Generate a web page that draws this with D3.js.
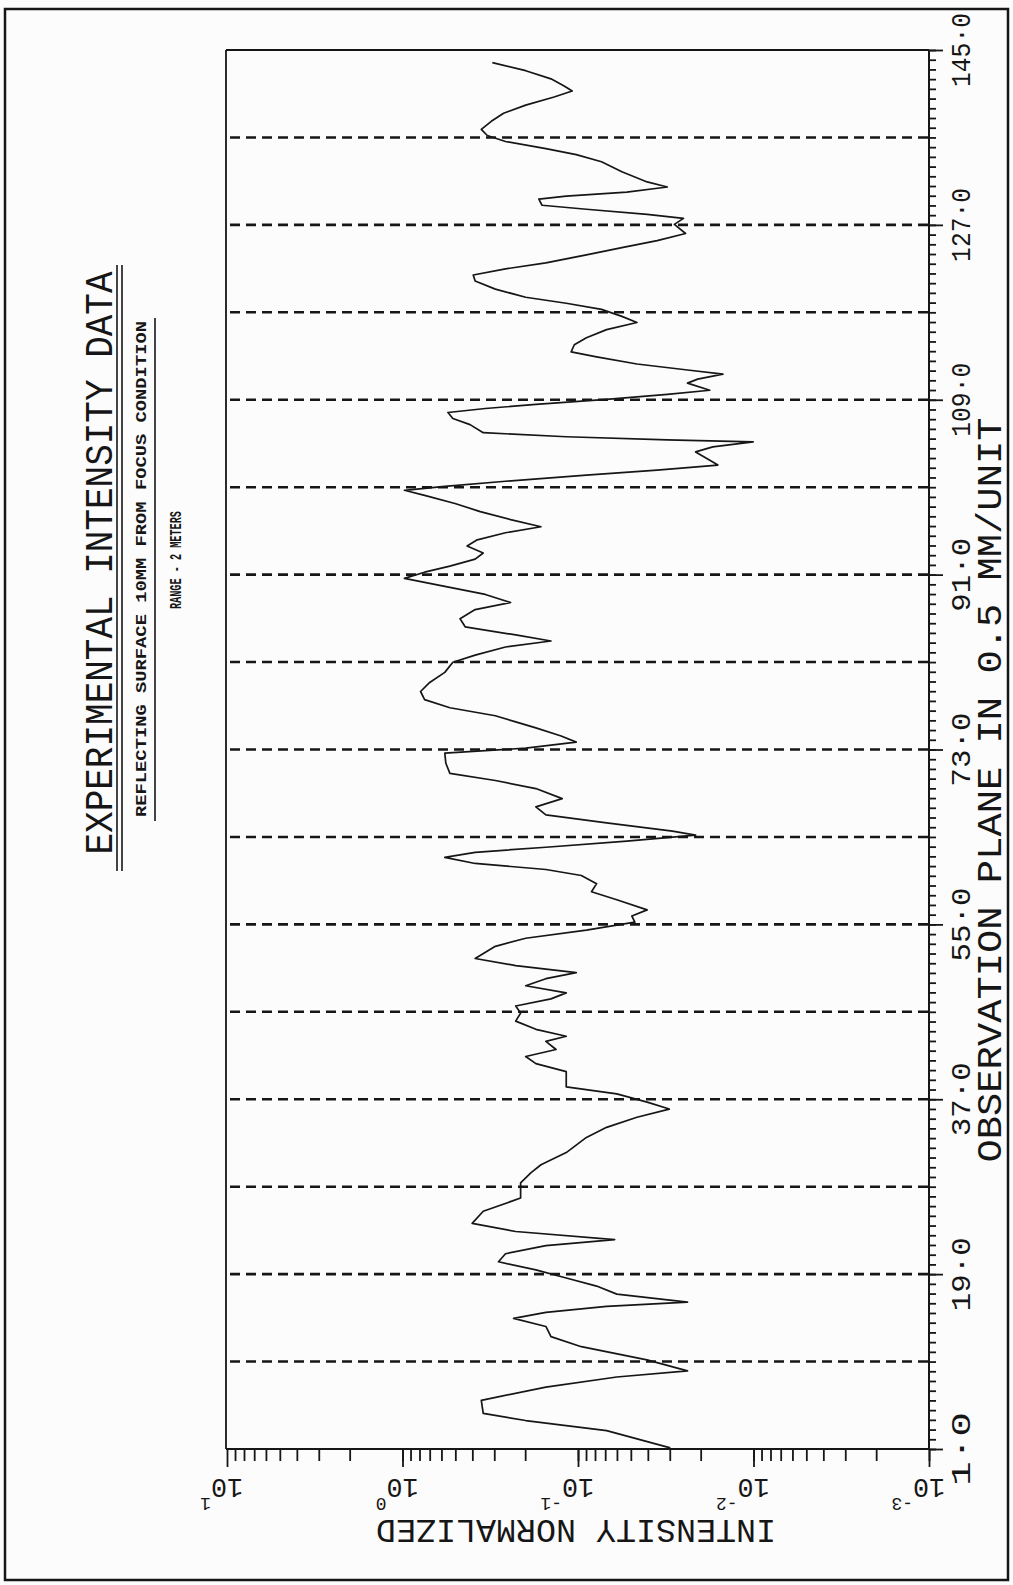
<!DOCTYPE html>
<html>
<head>
<meta charset="utf-8">
<script src="https://cdn.jsdelivr.net/npm/d3@7"></script>
<style>
  body { margin: 0; background: #fcfcfc; }
  svg text { font-family: "Liberation Mono", "DejaVu Sans Mono", monospace; fill: #161616; }
</style>
</head>
<body>
<svg id="chart" width="1013" height="1585"></svg>
<script>
// Observation plane position (0.5 mm units) and log10 of normalized intensity
const observation = [
  1.12, 2.89, 3.93, 4.66, 6.01, 7.37, 8.41, 9.04, 10.17, 11.53, 12.57, 13.61, 14.44, 15.07, 15.69, 16.11,
  16.94, 17.77, 18.60, 19.44, 20.27, 21.10, 21.93, 22.56, 23.39, 24.22, 25.47, 26.83, 28.39, 29.43, 30.26,
  31.51, 33.07, 34.11, 35.15, 35.99, 36.71, 37.55, 38.27, 39.00, 39.84, 40.67, 41.40, 42.12, 42.96, 43.48,
  44.20, 45.04, 45.87, 46.60, 47.33, 47.95, 48.68, 49.41, 50.04, 50.76, 51.49, 52.74, 53.57, 54.41, 55.24,
  55.86, 56.49, 57.53, 58.36, 59.19, 60.03, 60.65, 61.27, 61.90, 62.42, 62.94, 63.56, 64.19, 64.60, 65.44,
  66.27, 67.10, 67.94, 68.98, 69.81, 70.54, 71.58, 72.62, 73.14, 73.76, 74.39, 75.22, 75.84, 76.47, 77.30,
  78.13, 78.97, 79.90, 80.94, 81.98, 82.71, 83.55, 84.17, 84.79, 85.63, 86.46, 87.40, 88.13, 88.96, 89.79,
  90.62, 91.25, 91.87, 92.60, 93.23, 93.95, 94.58, 95.31, 95.93, 96.66, 97.49, 98.32, 99.16,
  99.68, 100.09, 100.61, 101.24, 101.76, 102.28, 102.90, 103.63, 104.15, 104.67, 104.88, 105.19, 105.61,
  106.44, 107.07, 107.69, 108.10, 108.52, 109.04, 109.56, 109.98, 110.71, 111.12, 111.64, 112.06, 112.68,
  113.41, 113.93, 114.66, 115.39, 116.22, 116.95, 117.58, 118.30, 118.93, 119.55, 120.39, 121.22, 121.84,
  122.47, 123.09, 123.92, 124.65, 125.38, 126.11, 127.05, 127.67, 128.09, 128.61, 129.02, 129.65, 129.96,
  130.38, 130.90, 131.42, 132.46, 133.50, 134.23, 134.85, 135.58, 136.20, 136.83, 137.66, 138.49, 139.33,
  140.16, 140.78, 141.30, 142.03, 142.87, 143.70]
const intensityExp = [
  -1.526, -1.163, -0.702, -0.460, -0.449, -0.817, -1.221, -1.624, -1.393, -1.019, -0.846, -0.817, -0.633, -0.817, -1.163, -1.624,
  -1.221, -1.106, -0.933, -0.760, -0.547, -0.587, -0.817, -1.209, -0.645, -0.397, -0.460, -0.673, -0.673, -0.731, -0.789,
  -0.933, -1.048, -1.163, -1.336, -1.520, -1.394, -1.221, -0.933, -0.933, -0.933, -0.760, -0.702, -0.875, -0.817, -0.933,
  -0.760, -0.645, -0.673, -0.645, -0.846, -0.933, -0.702, -0.817, -0.990, -0.645, -0.414, -0.529, -0.702, -1.048, -1.324,
  -1.307, -1.394, -1.221, -1.077, -1.106, -1.019, -0.817, -0.414, -0.241, -0.414, -0.817, -1.278, -1.670, -1.538, -1.163,
  -0.817, -0.760, -0.910, -0.760, -0.529, -0.270, -0.247, -0.241, -0.702, -0.990, -0.904, -0.760, -0.645, -0.529, -0.270,
  -0.126, -0.103, -0.155, -0.241, -0.287, -0.414, -0.587, -0.846, -0.645, -0.357, -0.328, -0.414, -0.616, -0.472, -0.241,
  -0.011, -0.126, -0.270, -0.414, -0.460, -0.368, -0.426, -0.587, -0.789, -0.616, -0.443, -0.299, -0.126,
  -0.011, -0.241, -0.587, -1.048, -1.451, -1.797, -1.739, -1.670, -1.768, -1.998, -1.509, -0.933, -0.460,
  -0.385, -0.287, -0.259, -0.472, -0.760, -1.163, -1.509, -1.751, -1.624, -1.682, -1.826, -1.624, -1.336,
  -1.106, -0.961, -0.979, -1.048, -1.163, -1.336, -1.250, -1.134, -0.933, -0.702, -0.529, -0.414, -0.403,
  -0.587, -0.817, -1.048, -1.250, -1.451, -1.613, -1.549, -1.601, -1.394, -1.048, -0.795, -0.777, -0.933,
  -1.278, -1.509, -1.394, -1.250, -1.134, -0.990, -0.817, -0.587, -0.483, -0.449, -0.506, -0.576, -0.702,
  -0.864, -0.967, -0.921, -0.846, -0.702, -0.512]

const obsTickLabels = [1, 19, 37, 55, 73, 91, 109, 127, 145]
const dashedObs = [10, 19, 28, 37, 46, 55, 64, 73, 82, 91, 100, 109, 118, 127, 136]
const decadeExps = [1, 0, -1, -2, -3]

const titleText = "EXPERIMENTAL INTENSITY DATA"
const subtitleText = "REFLECTING SURFACE 10MM FROM FOCUS CONDITION"
const rangeText = "RANGE - 2 METERS"
const obsAxisTitle = "OBSERVATION PLANE IN 0.5 MM/UNIT"
const intensityAxisTitle = "INTENSITY NORMALIZED"

const ink = "#161616"
const frame = { left: 226, right: 929, top: 50, bottom: 1449 }

const svg = d3.select("#chart")

// page border
svg.append("rect")
  .attr("x", 5).attr("y", 9)
  .attr("width", 1003).attr("height", 1571)
  .attr("fill", "none").attr("stroke", ink).attr("stroke-width", 2.5)

// scales: observation runs bottom -> top, intensity (log) runs left -> right decreasing
const yObs = d3.scaleLinear().domain([1, 145]).range([frame.bottom, frame.top])
const xInt = d3.scaleLog().domain([10, 1e-3]).range([frame.left + 1, frame.right])

// dashed reference lines
svg.append("g")
  .selectAll("line")
  .data(dashedObs)
  .join("line")
  .attr("x1", frame.left + 4)
  .attr("x2", frame.right)
  .attr("y1", d => yObs(d))
  .attr("y2", d => yObs(d))
  .attr("stroke", ink)
  .attr("stroke-width", 2.6)
  .attr("stroke-dasharray", "10,6")

// frame lines (left and top)
svg.append("line")
  .attr("x1", frame.left).attr("x2", frame.left)
  .attr("y1", frame.top).attr("y2", frame.bottom)
  .attr("stroke", ink).attr("stroke-width", 1.8)
svg.append("line")
  .attr("x1", frame.left).attr("x2", frame.right)
  .attr("y1", frame.top).attr("y2", frame.top)
  .attr("stroke", ink).attr("stroke-width", 1.8)

// right axis (observation)
svg.append("g")
  .attr("transform", `translate(${frame.right},0)`)
  .call(d3.axisRight(yObs).tickValues(d3.range(1, 146)).tickSize(7).tickSizeOuter(0).tickFormat(""))
svg.append("g")
  .attr("transform", `translate(${frame.right},0)`)
  .call(d3.axisRight(yObs).tickValues(obsTickLabels).tickSize(14).tickSizeOuter(0).tickFormat(""))

// bottom axis (intensity)
const intTicks = []
decadeExps.forEach(e => {
  if (e === -3) return
  for (let k = 1; k <= 9; k++) intTicks.push(k * Math.pow(10, e - 1))
})
const majorInt = decadeExps.map(e => Math.pow(10, e))
svg.append("g")
  .attr("transform", `translate(0,${frame.bottom})`)
  .call(d3.axisBottom(xInt).tickValues(intTicks).tickSize(12).tickSizeOuter(0).tickFormat(""))
svg.append("g")
  .attr("transform", `translate(0,${frame.bottom})`)
  .call(d3.axisBottom(xInt).tickValues(majorInt).tickSize(18).tickSizeOuter(0).tickFormat(""))

svg.selectAll(".domain").remove()
svg.selectAll(".tick line").attr("stroke", ink).attr("stroke-width", 1.8)

// axis lines
svg.append("line")
  .attr("x1", frame.right).attr("x2", frame.right)
  .attr("y1", frame.top).attr("y2", frame.bottom)
  .attr("stroke", ink).attr("stroke-width", 2)
svg.append("line")
  .attr("x1", frame.left).attr("x2", frame.right)
  .attr("y1", frame.bottom).attr("y2", frame.bottom)
  .attr("stroke", ink).attr("stroke-width", 2)

// right tick labels, rotated to read bottom -> top
svg.append("g")
  .selectAll("text")
  .data(obsTickLabels)
  .join("text")
  .attr("transform", d => `translate(970,${yObs(d)}) rotate(-90)`)
  .attr("text-anchor", "middle")
  .attr("font-size", 27)
  .attr("textLength", 74)
  .attr("lengthAdjust", "spacingAndGlyphs")
  .text(d => `${d}·0`)

// bottom tick labels, upside down
const decLabel = svg.append("g")
  .selectAll("g")
  .data(decadeExps)
  .join("g")
  .attr("transform", e => `translate(${xInt(Math.pow(10, e))},1479) rotate(180)`)
decLabel.append("text")
  .attr("text-anchor", "middle")
  .attr("font-size", 28)
  .attr("textLength", 32)
  .attr("lengthAdjust", "spacingAndGlyphs")
  .text("10")
decLabel.append("text")
  .attr("x", 16)
  .attr("y", -19)
  .attr("font-size", 18)
  .text(e => `${e}`)

// axis titles
svg.append("text")
  .attr("transform", "translate(1001,790) rotate(-90)")
  .attr("text-anchor", "middle")
  .attr("font-size", 35)
  .attr("textLength", 745)
  .attr("lengthAdjust", "spacingAndGlyphs")
  .text(obsAxisTitle)

svg.append("text")
  .attr("transform", "translate(576,1520) rotate(180)")
  .attr("text-anchor", "middle")
  .attr("font-size", 33)
  .attr("textLength", 400)
  .attr("lengthAdjust", "spacingAndGlyphs")
  .text(intensityAxisTitle)

// title block on the left
svg.append("text")
  .attr("transform", "translate(112,563) rotate(-90)")
  .attr("text-anchor", "middle")
  .attr("font-size", 38)
  .attr("textLength", 583)
  .attr("lengthAdjust", "spacingAndGlyphs")
  .text(titleText)
;[117, 122].forEach(xx => {
  svg.append("line")
    .attr("x1", xx).attr("x2", xx).attr("y1", 265).attr("y2", 871)
    .attr("stroke", ink).attr("stroke-width", 1.6)
})
svg.append("text")
  .attr("transform", "translate(146,569) rotate(-90)")
  .attr("text-anchor", "middle")
  .attr("font-family", "DejaVu Sans")
  .attr("font-weight", "bold")
  .attr("font-size", 15)
  .attr("textLength", 496)
  .attr("lengthAdjust", "spacingAndGlyphs")
  .text(subtitleText)
svg.append("line")
  .attr("x1", 155).attr("x2", 155).attr("y1", 318).attr("y2", 821)
  .attr("stroke", ink).attr("stroke-width", 1.6)
svg.append("text")
  .attr("transform", "translate(181,560) rotate(-90)")
  .attr("text-anchor", "middle")
  .attr("font-family", "DejaVu Sans")
  .attr("font-weight", "bold")
  .attr("font-size", 16)
  .attr("textLength", 98)
  .attr("lengthAdjust", "spacingAndGlyphs")
  .text(rangeText)

// intensity trace
const points = observation.map((o, i) => ({ obs: o, intensity: Math.pow(10, intensityExp[i]) }))
const line = d3.line()
  .x(d => xInt(d.intensity))
  .y(d => yObs(d.obs))
svg.append("path")
  .datum(points)
  .attr("d", line)
  .attr("fill", "none")
  .attr("stroke", ink)
  .attr("stroke-width", 1.7)
  .attr("stroke-linejoin", "round")
</script>
</body>
</html>
